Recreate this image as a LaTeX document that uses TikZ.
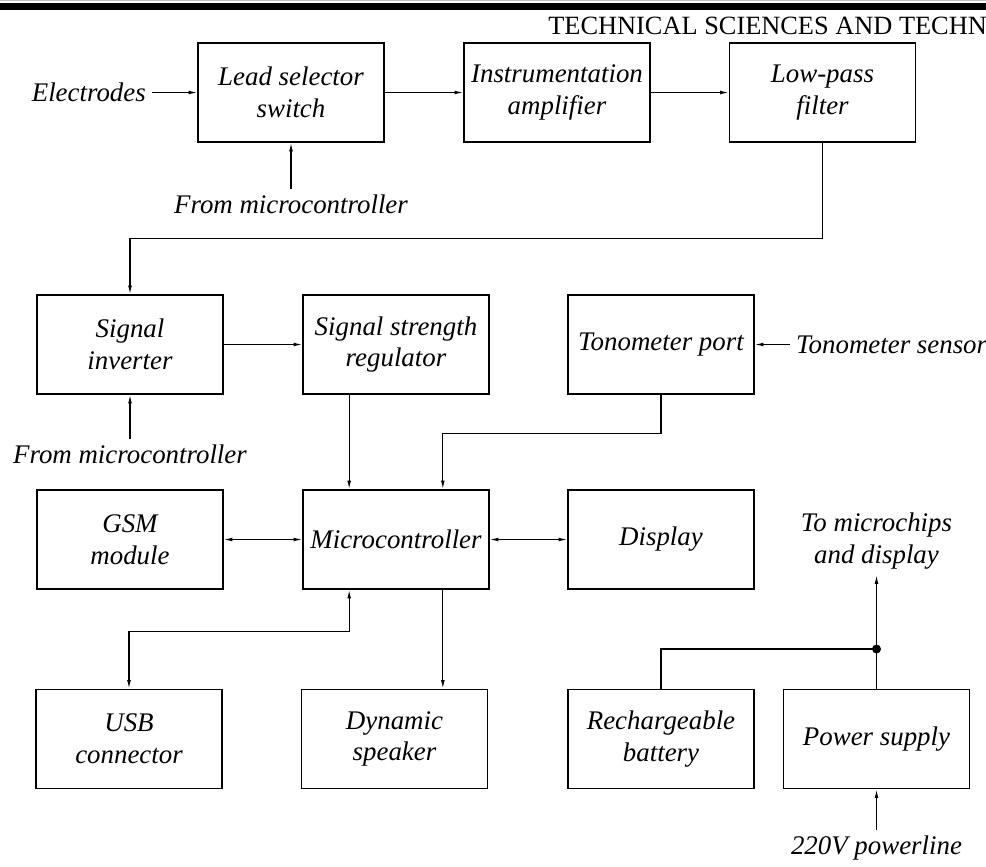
\documentclass[tikz,border=0pt]{standalone}
\usepackage{fontspec}
\setmainfont{Liberation Serif}
\usetikzlibrary{arrows.meta, calc}

\begin{document}
\begin{tikzpicture}[x=0.02cm, y=-0.02cm]
        \tikzset{block/.style={draw, line width=0.8pt, minimum width=3.72cm,
            minimum height=1.98cm, inner sep=0pt, align=center,
            font=\itshape\fontsize{15.3}{18.1}\selectfont},
          lbl/.style={align=center, font=\itshape\fontsize{15.3}{18.1}\selectfont},
          wire/.style={line width=0.7pt, >={Latex[length=5pt,width=2.2pt]}}}

        \useasboundingbox (0,0) rectangle (986,866);

        % page header
        \draw[black!25, line width=0.4pt] (0,0.8) -- (986,0.8);
        \fill[black] (0,3) rectangle (986,9.5);
        \node[anchor=base west, inner sep=0pt, font=\fontsize{15}{17}\selectfont]
            (head) at (548,34) {TECHNICAL SCIENCES AND TECHN};

        % blocks
        \node[block] (lead)  at (291,92.5)   {Lead selector\\switch};
        \node[block] (instr) at (557,92.5)   {Instrumentation\\amplifier};
        \node[block] (lpf)   at (822.5,92.5) {Low-pass\\filter};
        \node[block] (inv)   at (130,344.5)  {Signal\\inverter};
        \node[block] (reg)   at (396,344.5)  {Signal strength\\regulator};
        \node[block] (tono)  at (661,344.5)  {Tonometer port};
        \node[block] (gsm)   at (130,539.5)  {GSM\\module};
        \node[block] (mcu)   at (396,539.5)  {Microcontroller};
        \node[block] (disp)  at (661,539.5)  {Display};
        \node[block] (usb)   at (129,739)    {USB\\connector};
        \node[block] (spk)   at (394.5,739)  {Dynamic\\speaker};
        \node[block] (bat)   at (661,739)    {Rechargeable\\battery};
        \node[block] (psu)   at (876.5,739)  {Power supply};

        % outside labels
        \node[lbl, anchor=east]  (elec) at (152,92.5)    {Electrodes};
        \node[lbl, anchor=north] (fm1)  at (291,189)     {From microcontroller};
        \node[lbl, anchor=north] (fm2)  at (130,439)     {From microcontroller};
        \node[lbl, anchor=west]  (sens) at (790,344.5)   {Tonometer sensor};
        \node[lbl, anchor=south] (tomc) at (876.5,575)   {To microchips\\and display};
        \node[lbl, anchor=north] (line) at (876.5,830)   {220V powerline};

        \coordinate (mcuin1)  at ($(mcu.north west)!0.25!(mcu.north east)$);
        \coordinate (mcuin2)  at ($(mcu.north west)!0.75!(mcu.north east)$);
        \coordinate (mcuusb)  at ($(mcu.south west)!0.25!(mcu.south east)$);
        \coordinate (mcuout)  at ($(mcu.south west)!0.75!(mcu.south east)$);
        \coordinate (junc) at (876.5,649);

        % signal path
        \draw[wire,->] (elec) -- (lead);
        \draw[wire,->] (lead) -- (instr);
        \draw[wire,->] (instr) -- (lpf);
        \draw[wire,->] (fm1.north) -- (lead.south);
        \draw[wire,->] (lpf.south) -- ++(0,96) -| (inv.north);
        \draw[wire,->] (inv) -- (reg);
        \draw[wire,->] (fm2.north) -- (inv.south);
        \draw[wire,->] (sens.west) -- (tono.east);
        \draw[wire,->] (mcuin1 |- reg.south) -- (mcuin1);
        \draw[wire,->] (tono.south) -- ++(0,39) -| (mcuin2);

        % around the microcontroller
        \draw[wire,<->] (gsm) -- (mcu);
        \draw[wire,<->] (mcu) -- (disp);
        \draw[wire,<->] (usb.north) -- ++(0,-57) -| (mcuusb);
        \draw[wire,->] (mcuout) -- (mcuout |- spk.north);

        % power
        \draw[wire] (bat.north) |- (junc);
        \draw[wire] (psu.north) -- (junc);
        \draw[wire,->] (junc) -- (tomc.south);
        \draw[wire,->] (line.north) -- (psu.south);
        \fill[black] (junc) circle (4.5);

    \end{tikzpicture}
\end{document}
